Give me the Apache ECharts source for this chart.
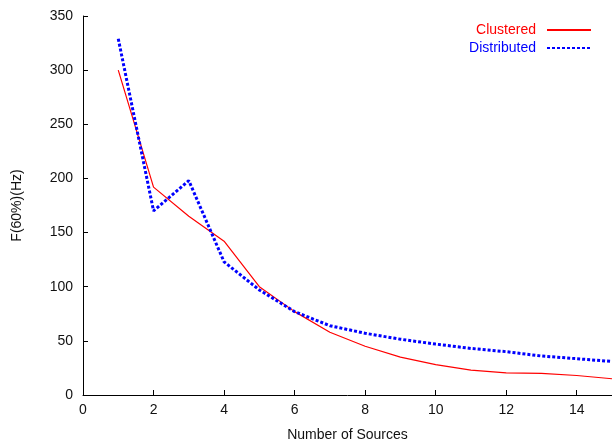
<!DOCTYPE html>
<html><head><meta charset="utf-8">
<script src="https://cdn.jsdelivr.net/npm/echarts@6/dist/echarts.min.js"></script>
<style>html,body{margin:0;padding:0;background:#fff}#c{width:612px;height:440px}</style>
</head><body><div id="c"></div>
<script>
const xValues = [1,2,3,4,5,6,7,8,9,10,11,12,13,14,15];
const clustered = [300,192,165,142,100,77,58,45,35,28,23,20.5,20,18,15];
const distributed = [329,170,198,123,97,77,64,57,51.5,47,43,40,36,33.5,31];
const seriesNames = ['Clustered','Distributed'];
const pair = (ys) => xValues.map((x,i)=>[x,ys[i]]);
const font = 'Liberation Sans, Arial, sans-serif';
const chart = echarts.init(document.getElementById('c'));
const axisCommon = {
  axisLine:{show:true,lineStyle:{color:'#000',width:1}},
  axisTick:{show:true,inside:true,length:5,lineStyle:{color:'#000'}},
  splitLine:{show:false},
  axisLabel:{color:'#111',fontFamily:font,fontSize:14},
  nameTextStyle:{color:'#111',fontFamily:font,fontSize:14}
};
chart.setOption({
  animation:false,
  grid:{left:83,right:0,top:16,bottom:45,containLabel:false,outerBoundsMode:'none'},
  legend:{orient:'vertical',right:20,top:23,padding:0,align:'right',itemWidth:44,itemHeight:10,itemGap:4,
    itemStyle:{opacity:0},
    textStyle:{fontFamily:font,fontSize:14,padding:[0,6,0,0]},
    data:[{name:'Clustered',textStyle:{color:'#ff0000'}},{name:'Distributed',textStyle:{color:'#0000ff'}}]},
  xAxis:Object.assign({},axisCommon,{type:'value',min:0,max:15,interval:2,
    name:'Number of Sources',nameLocation:'middle',nameGap:33,
    axisLabel:Object.assign({},axisCommon.axisLabel,{showMaxLabel:false,margin:8})}),
  yAxis:Object.assign({},axisCommon,{type:'value',min:0,max:350,interval:50,
    name:'F(60%)(Hz)',nameLocation:'middle',nameGap:59,
    axisLabel:Object.assign({},axisCommon.axisLabel,{margin:10})}),
  series:[
    {name:seriesNames[0],type:'line',data:pair(clustered),symbol:'none',
     lineStyle:{color:'#ff0000',width:1.2},itemStyle:{color:'#ff0000'}},
    {name:seriesNames[1],type:'line',data:pair(distributed),symbol:'none',
     lineStyle:{color:'#0000ff',width:3,type:[3,2],cap:'butt'},itemStyle:{color:'#0000ff'}}
  ]
});
</script></body></html>
